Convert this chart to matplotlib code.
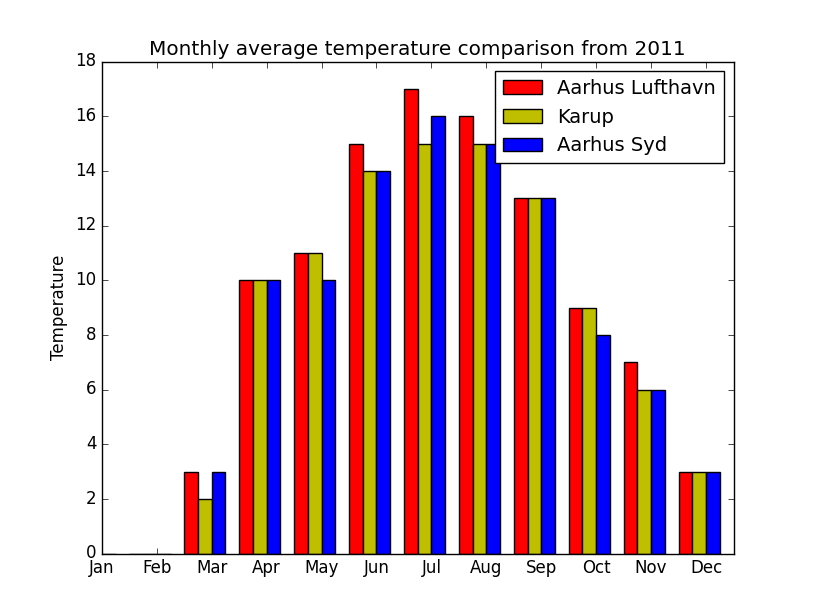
import matplotlib
matplotlib.use('Agg')
import matplotlib.pyplot as plt
import numpy as np

plt.style.use('classic')

months = ['Jan', 'Feb', 'Mar', 'Apr', 'May', 'Jun', 'Jul', 'Aug', 'Sep', 'Oct', 'Nov', 'Dec']
aarhus_lufthavn = [0, 0, 3, 10, 11, 15, 17, 16, 13, 9, 7, 3]
karup = [0, 0, 2, 10, 11, 14, 15, 15, 13, 9, 6, 3]
aarhus_syd = [0, 0, 3, 10, 10, 14, 16, 15, 13, 8, 6, 3]

x = np.arange(len(months))
w = 0.25

fig = plt.figure(figsize=(8.15, 6.15), dpi=100)
ax = fig.add_subplot(111)
ax.bar(x, aarhus_lufthavn, w, color='r', label='Aarhus Lufthavn', align='edge')
ax.bar(x + w, karup, w, color='y', label='Karup', align='edge')
ax.bar(x + 2 * w, aarhus_syd, w, color='b', label='Aarhus Syd', align='edge')

ax.set_xticks(x + 0.5)
ax.set_xticklabels(months)
ax.set_xlim(0.5, 12)
ax.set_ylim(0, 18)
ax.set_ylabel('Temperature')
ax.set_title('Monthly average temperature comparison from 2011')
ax.legend(loc='upper right', fontsize=14)

fig.savefig('out.png', dpi=100)
